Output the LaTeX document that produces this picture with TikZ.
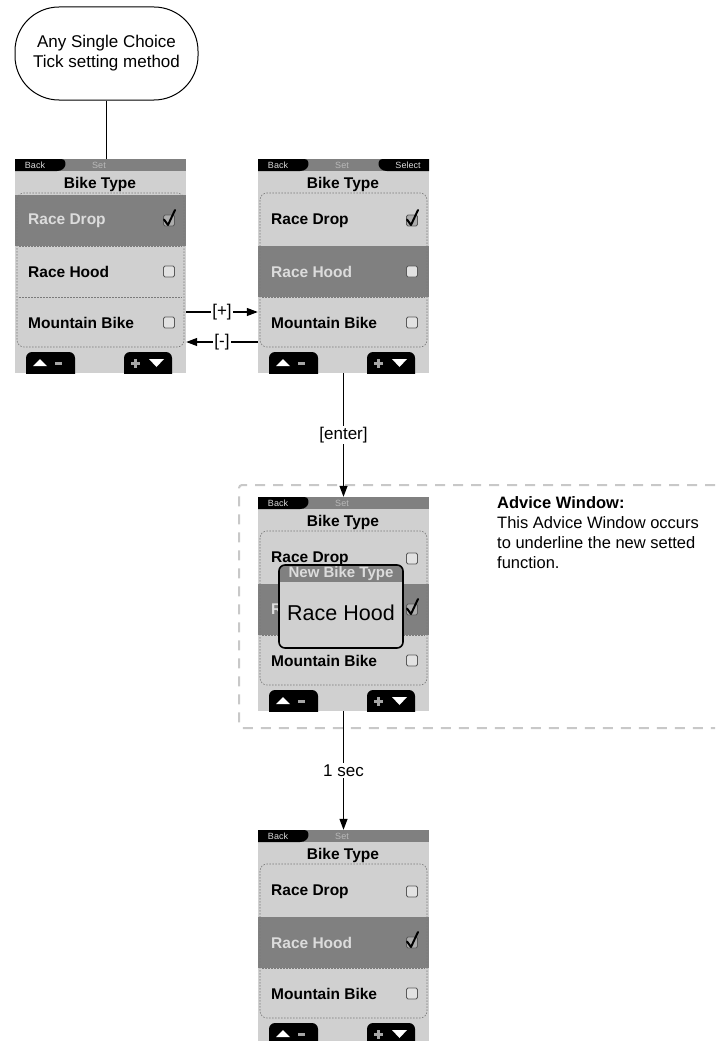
\documentclass[tikz,border=0pt]{standalone}
\usepackage{fontspec}
\setmainfont{Liberation Sans}
\usetikzlibrary{arrows.meta,positioning}
\definecolor{scrlight}{HTML}{D0D0D0}
\definecolor{scrdark}{HTML}{808080}
\definecolor{rowlight}{HTML}{DCDCDC}
\definecolor{boxfill}{HTML}{E2E2E2}
\definecolor{boxedge}{HTML}{5A5A5A}
\definecolor{framegray}{HTML}{7A7A7A}
\definecolor{advgray}{HTML}{C8C8C8}
\tikzset{
  terminal/.style={draw=black, line width=1pt, rounded corners=44pt,
                   minimum width=183pt, minimum height=93pt,
                   align=center, font=\fontsize{17}{20}\selectfont},
  screenbox/.style={inner sep=0pt, minimum width=171pt, minimum height=214pt},
  hdrtext/.style={inner sep=0pt, font=\fontsize{9}{10}\selectfont},
  titletext/.style={inner sep=0pt, font=\bfseries\fontsize{15.5}{18}\selectfont},
  rowtext/.style={anchor=west, inner sep=0pt, font=\bfseries\fontsize{15.5}{18}\selectfont},
  chkbox/.style={draw=boxedge, line width=0.8pt, rounded corners=1.5pt,
                 minimum size=11pt, inner sep=0pt},
  tickmark/.style={line width=2pt, line cap=round, line join=round},
  sepline/.style={draw=framegray, line width=0.5pt, dash pattern=on 1.5pt off 1.5pt},
  framedash/.style={draw=framegray, line width=0.6pt, dash pattern=on 1.5pt off 1.5pt,
                    rounded corners=7pt},
  keybtn/.style={fill=black, rounded corners=6pt},
  flowarr/.style={-{Triangle[length=11pt,width=8pt]}, line width=1.2pt},
  plainline/.style={line width=1.2pt},
  lbl/.style={fill=white, inner sep=1.5pt, font=\fontsize{17}{20}\selectfont},
  advframe/.style={draw=advgray, line width=2pt, dash pattern=on 10pt off 8pt,
                   rounded corners=3pt},
  advtext/.style={anchor=north west, align=left, inner sep=0pt,
                  font=\fontsize{16.5}{20}\selectfont},
  poptitle/.style={inner sep=0pt, text=rowlight, font=\bfseries\fontsize{15}{17}\selectfont},
  popbig/.style={inner sep=0pt, font=\fontsize{21.5}{24}\selectfont}
}
% #1 name, #2 left, #3 top, #4 highlighted row, #5 ticked row, #6 select tab, #7 row 2 text
\newcommand{\bikescreen}[7]{%
  \begin{scope}[shift={(#2,#3)}]
    \node[screenbox] (#1) at (85.5,107) {};
    \clip (0,0) rectangle (171,214);
    \fill[scrlight] (0,0) rectangle (171,214);
    \fill[scrdark] (0,0) rectangle (171,12);
    \fill[black] (0,0) -- (46,0) .. controls (53,0) and (52,12) .. (42,12) -- (0,12) -- cycle;
    \node[hdrtext, text=gray!30] (#1-back) at (20,6) {Back};
    \node[hdrtext, text=gray!55] (#1-set) at (84,6) {Set};
    \ifnum#6=1
      \fill[black] (171,0) -- (125,0) .. controls (118,0) and (119,12) .. (129,12) -- (171,12) -- cycle;
      \node[hdrtext, text=gray!30] (#1-select) at (150,6) {Select};
    \fi
    \node[titletext] (#1-title) at (85,25) {Bike Type};
    \foreach \r in {1,2} \draw[sepline] (4,{36+51*\r}) -- (167,{36+51*\r});
    \fill[scrdark] (0,{36+51*(#4-1)}) rectangle (171,{36+51*#4});
    \draw[framedash] (2,34) rectangle (169,188);
    \foreach \r/\entry in {1/Race Drop,2/#7,3/Mountain Bike} {
      \ifnum\r=#4 \def\rowcol{rowlight}\else\def\rowcol{black}\fi
      \node[rowtext, text=\rowcol] (#1-row\r) at (13,{10.5+51*\r}) {\entry};
      \ifnum\r=#5
        \node[chkbox, fill=gray!65] (#1-box\r) at (154,{10.5+51*\r}) {};
        \draw[tickmark] (149,{9.5+51*\r}) -- (153,{15+51*\r}) -- (160,{0+51*\r});
      \else
        \node[chkbox, fill=boxfill] (#1-box\r) at (154,{10.5+51*\r}) {};
      \fi
    }
    \fill[keybtn] (11,193) rectangle (60,224);
    \fill[keybtn] (109,193) rectangle (157,224);
    \fill[white] (18,207) -- (25,200) -- (32,207) -- cycle;
    \fill[gray!70] (40,203) rectangle (47,205.5);
    \fill[gray!70] (116,203) rectangle (125,205.5);
    \fill[gray!70] (119.2,199.5) rectangle (121.8,209);
    \fill[white] (134,200) -- (149,200) -- (141.5,208) -- cycle;
  \end{scope}
}
\begin{document}
\begin{tikzpicture}[x=1pt,y=-1pt]
  \useasboundingbox (0,0) rectangle (715,1041);
  \node[terminal] (start) at (106.5,53.5) {Any Single Choice\\Tick setting method};
  \bikescreen{scrA}{15}{159}{1}{1}{0}{Race Hood}
  \bikescreen{scrB}{258}{159}{2}{1}{1}{Race Hood}
  \draw[advframe] (715,485) -- (239,485) -- (239,728) -- (715,728);
  \bikescreen{scrC}{258}{497}{2}{2}{0}{R}
  \begin{scope}
    \clip[rounded corners=6pt] (279,565) rectangle (403,648);
    \fill[scrlight] (279,565) rectangle (403,648);
    \fill[scrdark] (279,565) rectangle (403,582);
  \end{scope}
  \draw[line width=1.6pt, rounded corners=6pt] (279,565) rectangle (403,648);
  \node[poptitle] (popT) at (341,574) {New Bike Type};
  \node[popbig] (popR) at (341,613) {Race Hood};
  \bikescreen{scrD}{258}{830}{2}{2}{0}{Race Hood}
  \node[advtext] (advice) at (497,496) {\textbf{Advice Window:}\\This Advice Window occurs\\to underline the new setted\\function.};

  \draw[plainline] (start.south) -- (start.south |- scrA.north);
  \draw[flowarr] ([yshift=-46pt]scrA.east) -- node[lbl] (plus) {[+]} ([yshift=-46pt]scrB.west);
  \draw[flowarr] ([yshift=-76pt]scrB.west) -- node[lbl] (minus) {[-]} ([yshift=-76pt]scrA.east);
  \draw[flowarr] (scrB.south) -- node[lbl] (enter) {[enter]} (scrC.north);
  \draw[flowarr] (scrC.south) -- node[lbl] (onesec) {1 sec} (scrD.north);
\end{tikzpicture}
\end{document}
